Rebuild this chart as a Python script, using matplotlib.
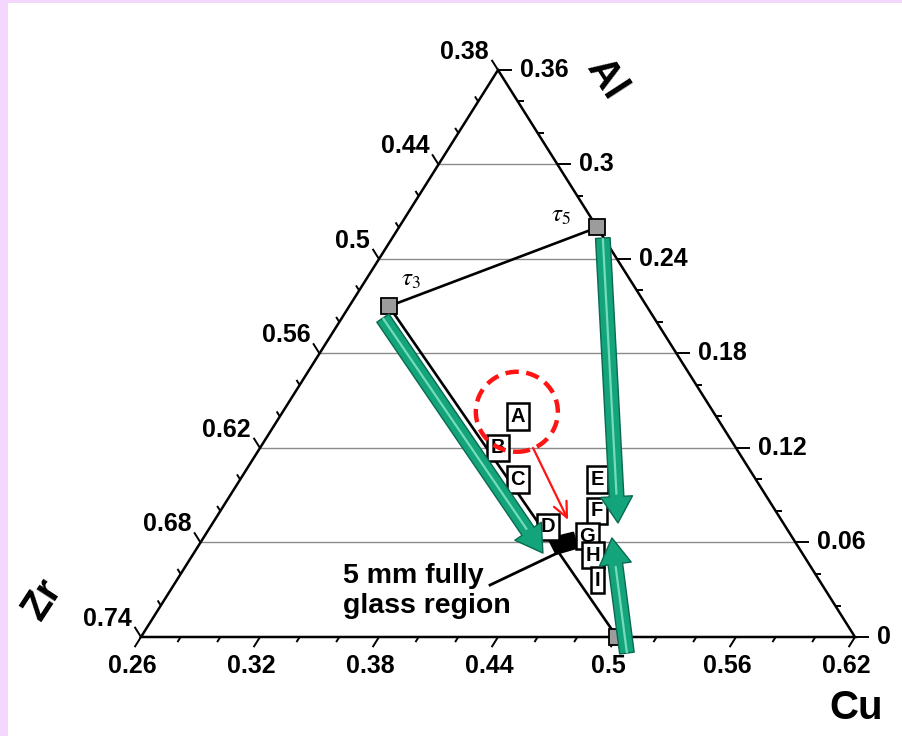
import numpy as np
import matplotlib
matplotlib.use("Agg")
import matplotlib.pyplot as plt
from matplotlib.patches import Polygon, Ellipse, FancyArrowPatch, Rectangle

plt.rcParams['font.family'] = ['Liberation Sans', 'DejaVu Sans']
plt.rcParams['mathtext.fontset'] = 'stix'

# ---- composition window (Cu + Zr + Al = 1) ----
CU_MIN, ZR_MAX, SPAN = 0.26, 0.74, 0.36

cu_ticks = [0.26, 0.32, 0.38, 0.44, 0.50, 0.56, 0.62]
cu_tick_labels = ['0.26', '0.32', '0.38', '0.44', '0.5', '0.56', '0.62']
zr_ticks = [0.38, 0.44, 0.50, 0.56, 0.62, 0.68, 0.74]
zr_tick_labels = ['0.38', '0.44', '0.5', '0.56', '0.62', '0.68', '0.74']
al_ticks = [0.0, 0.06, 0.12, 0.18, 0.24, 0.30, 0.36]
al_tick_labels = ['0', '0.06', '0.12', '0.18', '0.24', '0.3', '0.36']
minor_step = 0.02

# intermetallic phases and binary end point
phase_labels = [r'$\tau_3$', r'$\tau_5$']
phase_cu = [0.28, 0.36]
phase_al = [0.21, 0.26]
binary_cu = [0.50]
binary_al = [0.0]

# alloys
alloy_names = ['A', 'B', 'C', 'D', 'E', 'F', 'G', 'H', 'I']
alloy_cu = [0.38, 0.38, 0.40, 0.43, 0.44, 0.45, 0.453, 0.462, 0.472]
alloy_al = [0.14, 0.12, 0.10, 0.07, 0.10, 0.08, 0.064, 0.052, 0.036]

# 5 mm fully glassy region outline
glass_cu = [0.434, 0.4448, 0.452, 0.443]
glass_al = [0.0625, 0.0665, 0.0565, 0.0525]

# composition trends (start -> end)
trend_start_cu = [0.2807, 0.3662, 0.5101]
trend_start_al = [0.2025, 0.2533, -0.0102]
trend_end_cu = [0.436, 0.4643, 0.466]
trend_end_al = [0.0533, 0.0724, 0.0629]

# highlighted alloy and pointer
circle_cu, circle_al = 0.378, 0.143
red_arrow_cu = [0.3977, 0.4382]
red_arrow_al = [0.120, 0.0743]
pointer_cu = [0.4195, 0.447]
pointer_al = [0.033, 0.0565]


def to_xy(cu, al):
    cu = np.asarray(cu, dtype=float)
    al = np.asarray(al, dtype=float)
    return (cu - CU_MIN) + al / 2.0, al


W_PX, H_PX = 902, 736
X0, X1 = -0.07109, 0.38370
Y0, Y1 = -0.062857, 0.404444
PX = (X1 - X0) / W_PX     # data units per pixel (x)
PY = (Y1 - Y0) / H_PX     # data units per pixel (y)
PT = 0.72                 # points per pixel at 100 dpi

fig = plt.figure(figsize=(W_PX / 100, H_PX / 100), dpi=100)
fig.patch.set_facecolor('#F3D7FC')
fig.add_artist(Rectangle((8 / W_PX, 0), 1, 1 - 3 / H_PX, transform=fig.transFigure,
                         facecolor='white', edgecolor='none', zorder=0))
ax = fig.add_axes([0, 0, 1, 1])
ax.set_xlim(X0, X1)
ax.set_ylim(Y0, Y1)
ax.axis('off')


def unit_px(dx, dy):
    vx, vy = dx / PX, dy / PY
    n = np.hypot(vx, vy)
    return vx / n, vy / n


# tick directions in pixel space
left_edge = unit_px(SPAN / 2, SPAN)
cu_dir = (-left_edge[0], -left_edge[1])          # down-left
right_edge = unit_px(SPAN / 2, -SPAN)
zr_dir = (-right_edge[0], -right_edge[1])        # up-left
al_dir = (1.0, 0.0)

# horizontal Al grid lines
for a in al_ticks[1:-1]:
    gx, gy = to_xy([CU_MIN, CU_MIN + SPAN - a], [a, a])
    ax.plot(gx, gy, color='#8a8a8a', lw=1.0, zorder=1)

# triangle frame
tx, ty = to_xy([CU_MIN, CU_MIN + SPAN, CU_MIN], [0, 0, SPAN])
ax.add_patch(Polygon(np.column_stack([tx, ty]), closed=True, fill=False,
                     ec='black', lw=1.8, zorder=2))


def draw_tick(x, y, d, length):
    ax.plot([x, x + d[0] * length * PX], [y, y + d[1] * length * PY],
            color='black', lw=1.4, solid_capstyle='butt', zorder=2)


minor_vals = np.round(np.arange(0, SPAN + 1e-9, minor_step), 4)
for v in minor_vals:
    major = abs(v / 0.06 - round(v / 0.06)) < 1e-6
    L = 12 if major else 6
    x, y = to_xy(CU_MIN + v, 0.0)                 # Cu axis (bottom)
    draw_tick(x, y, cu_dir, L)
    x, y = to_xy(CU_MIN, v)                       # Zr axis (left)
    draw_tick(x, y, zr_dir, L)
    x, y = to_xy(CU_MIN + SPAN - v, v)            # Al axis (right)
    draw_tick(x, y, al_dir, 14 if major else 6)

label_fs = 18
for c, lab in zip(cu_ticks, cu_tick_labels):
    x, y = to_xy(c, 0.0)
    ax.annotate(lab, (x, y), xytext=(-9 * PT, -17 * PT), textcoords='offset points',
                ha='center', va='top', fontsize=label_fs, fontweight='bold')
for z, lab in zip(zr_ticks, zr_tick_labels):
    x, y = to_xy(CU_MIN, ZR_MAX - z)
    ax.annotate(lab, (x, y), xytext=(-9 * PT, 6 * PT), textcoords='offset points',
                ha='right', va='bottom', fontsize=label_fs, fontweight='bold')
for a, lab in zip(al_ticks, al_tick_labels):
    x, y = to_xy(CU_MIN + SPAN - a, a)
    ax.annotate(lab, (x, y), xytext=(22 * PT, 0), textcoords='offset points',
                ha='left', va='center', fontsize=label_fs, fontweight='bold')

# axis titles
ax.annotate('Al', to_xy(CU_MIN, SPAN), xytext=(108 * PT, -9 * PT),
            textcoords='offset points', ha='center', va='center', rotation=-57,
            fontsize=29, fontweight='bold')
ax.annotate('Zr', to_xy(CU_MIN, 0.0), xytext=(-99 * PT, 38 * PT),
            textcoords='offset points', ha='center', va='center', rotation=57,
            fontsize=29, fontweight='bold')
ax.annotate('Cu', to_xy(CU_MIN + SPAN, 0.0), xytext=(1 * PT, -71 * PT),
            textcoords='offset points', ha='center', va='center',
            fontsize=29, fontweight='bold')

# tie lines between phases
px3, py3 = to_xy(phase_cu[0], phase_al[0])
px5, py5 = to_xy(phase_cu[1], phase_al[1])
pxb, pyb = to_xy(binary_cu[0], binary_al[0])
ax.plot([px3, px5], [py3, py5], color='black', lw=1.9, zorder=3)
ax.plot([px3, pxb], [py3, pyb], color='black', lw=1.9, zorder=3)

# glassy region and its pointer
gx, gy = to_xy(glass_cu, glass_al)
ax.add_patch(Polygon(np.column_stack([gx, gy]), closed=True, fc='black', ec='black',
                     lw=1, zorder=4))
lx, ly = to_xy(pointer_cu, pointer_al)
ax.plot(lx, ly, color='black', lw=2.0, zorder=4)
ax.annotate('5 mm fully\nglass region', (lx[0], ly[0]), xytext=(-147 * PT, -6 * PT),
            textcoords='offset points', ha='left', va='center', fontsize=20.5,
            fontweight='bold', linespacing=1.2, zorder=5)

# phase markers
mx, my = to_xy(phase_cu + binary_cu, phase_al + binary_al)
ax.plot(mx, my, 's', ms=12, mfc='#9c9c9c', mec='black', mew=1.3, zorder=5)
ax.annotate(phase_labels[0], (px3, py3), xytext=(22 * PT, 27 * PT),
            textcoords='offset points', ha='center', va='center', fontsize=18)
ax.annotate(phase_labels[1], (px5, py5), xytext=(-36 * PT, 12 * PT),
            textcoords='offset points', ha='center', va='center', fontsize=18)

# alloy labels
ax_, ay_ = to_xy(alloy_cu, alloy_al)
for name, x, y in zip(alloy_names, ax_, ay_):
    ax.text(x, y, name, ha='center', va='center', fontsize=14.5, fontweight='bold', zorder=6,
            bbox=dict(boxstyle='square,pad=0.18', fc='white', ec='black', lw=1.8))

# red highlight
cx, cy = to_xy(circle_cu, circle_al)
ax.add_patch(Ellipse((cx, cy), 82 * PX, 80 * PY, fill=False, ec='#ff1414', lw=3.2,
                     linestyle=(0, (3, 1.7)), zorder=7))
rx, ry = to_xy(red_arrow_cu, red_arrow_al)
ax.add_patch(FancyArrowPatch((rx[0], ry[0]), (rx[1], ry[1]),
                             arrowstyle='->,head_length=11,head_width=5',
                             mutation_scale=1, color='#ff1414', lw=1.6,
                             shrinkA=0, shrinkB=0, zorder=7))

# green composition-trend arrows
sx, sy = to_xy(trend_start_cu, trend_start_al)
ex, ey = to_xy(trend_end_cu, trend_end_al)
head_len_pt = 19
for x0, y0, x1, y1 in zip(sx, sy, ex, ey):
    ax.add_patch(FancyArrowPatch((x0, y0), (x1, y1),
                                 arrowstyle=f'simple,head_length={head_len_pt},head_width=23,tail_width=10.5',
                                 mutation_scale=1, fc='#13a47c', ec='#0a6a50', lw=1.0,
                                 shrinkA=0, shrinkB=0, zorder=8))
    # lighter centre stripe of the shaft
    dxp, dyp = (x1 - x0) / PX, (y1 - y0) / PY
    lpx = np.hypot(dxp, dyp)
    f = 1 - (head_len_pt / PT + 2) / lpx
    ax.plot([x0, x0 + (x1 - x0) * f], [y0, y0 + (y1 - y0) * f], color='#74dcb8',
            lw=1.6, solid_capstyle='butt', zorder=9)

fig.savefig('out.png', dpi=100, facecolor=fig.get_facecolor())
